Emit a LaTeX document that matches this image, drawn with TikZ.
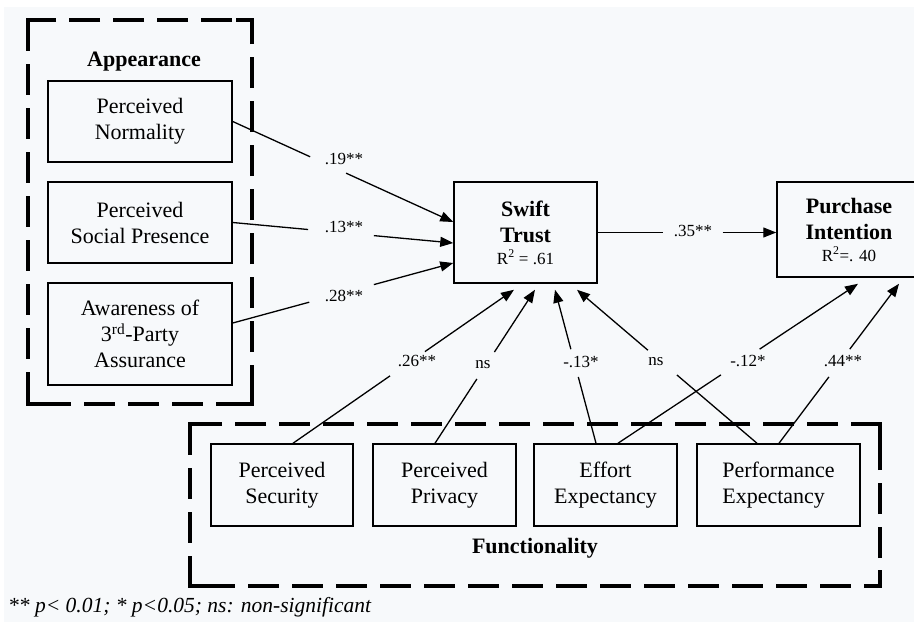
\documentclass[tikz,border=0pt]{standalone}
\usepackage{fontspec}
\setmainfont{Liberation Serif}
\usetikzlibrary{arrows.meta,calc}
\definecolor{bgc}{RGB}{247,249,251}
\newcommand\bxf{\fontsize{22}{26}\selectfont}
\newcommand\lbf{\fontsize{17}{20}\selectfont}
\newcommand\ftf{\fontsize{21.5}{24}\selectfont}
\newcommand\gapconn[4]{%
  \path (#1) -- (#2) coordinate[pos=#3] (ga) coordinate[pos=#4] (gb);
  \draw[conn] (#1) -- (ga);
  \draw[conn,arr] (gb) -- (#2);}
\tikzset{
  box/.style={draw, line width=1.5pt, align=center, font=\bxf, inner sep=0pt},
  title/.style={font=\bxf\bfseries, inner sep=0pt},
  conn/.style={line width=1.3pt},
  arr/.style={-{Triangle[length=13pt,width=10pt]}},
  lbl/.style={font=\lbf, inner sep=0pt},
  grp/.style={line width=4pt, dash pattern=on 31pt off 13pt},
  grpc/.style={line width=4pt, miter limit=10}
}
\begin{document}
\begin{tikzpicture}[x=1pt,y=-1pt]
\useasboundingbox (0,0) rectangle (914,622);
\clip (0,0) rectangle (914,622);
\fill[white] (0,0) rectangle (914,622);
\fill[bgc] (4,7) rectangle (914,622);

% group frames
\draw[grp] (28,20) rectangle (252,404);
\draw[grpc] (28,36) -- (28,20) -- (44,20);
\draw[grpc] (236,20) -- (252,20) -- (252,36);
\draw[grpc] (28,388) -- (28,404) -- (44,404);
\draw[grpc] (236,404) -- (252,404) -- (252,388);
\node[title] (app) at (144,62) {Appearance};

\draw[grp] (190,424) rectangle (880,586);
\draw[grpc] (190,440) -- (190,424) -- (206,424);
\draw[grpc] (864,424) -- (880,424) -- (880,440);
\draw[grpc] (190,570) -- (190,586) -- (206,586);
\draw[grpc] (864,586) -- (880,586) -- (880,570);
\node[title] (fun) at (535,548) {Functionality};

% boxes
\node[box, minimum width=184pt, minimum height=81pt] (pn) at (140,121.5) {Perceived\\Normality};
\node[box, minimum width=184pt, minimum height=81pt] (pp) at (140,222.5) {Perceived\\Social Presence};
\node[box, minimum width=184pt, minimum height=102pt] (aw) at (140,334) {Awareness of\\3\textsuperscript{rd}-Party\\Assurance};

\node[box, minimum width=143pt, minimum height=101pt] (st) at (525.5,232.5)
  {\textbf{Swift}\\\textbf{Trust}\\[-4pt]\lbf R\textsuperscript{2} = .61};
\node[box, minimum width=144pt, minimum height=95pt] (pi) at (849,229.5)
  {\textbf{Purchase}\\\textbf{Intention}\\[-4pt]\lbf R\textsuperscript{2}=. 40};

\node[box, minimum width=142pt, minimum height=82pt] (ps) at (282,485) {Perceived\\Security};
\node[box, minimum width=143pt, minimum height=82pt] (pv) at (444.5,485) {Perceived\\Privacy};
\node[box, minimum width=143pt, minimum height=82pt] (ee) at (605.5,485) {Effort\\Expectancy};
\node[box, minimum width=163pt, minimum height=82pt, align=left] (pe) at (778.5,485) {Performance\\Expectancy};

% connector end points
\coordinate (aws) at ($(aw.east)+(0,-11)$);
\coordinate (st1) at ($(st.west)+(0,-10.5)$);
\coordinate (st2) at ($(st.west)+(0,10.5)$);
\coordinate (st3) at ($(st.west)+(0,30.5)$);
\coordinate (sb1) at ($(st.south)+(-11.5,6)$);
\coordinate (sb2) at ($(st.south)+(9.5,6)$);
\coordinate (sb3) at ($(st.south)+(29.5,6)$);
\coordinate (sb4) at ($(st.south)+(51.5,6)$);
\coordinate (pb1) at ($(pi.south)+(9,6)$);
\coordinate (pb2) at ($(pi.south)+(50,6)$);
\coordinate (pss) at ($(ps.north)+(11,0)$);
\coordinate (pvs) at ($(pv.north)+(-9.5,0)$);
\coordinate (ees1) at ($(ee.north)+(-9.5,0)$);
\coordinate (ees2) at ($(ee.north)+(12.5,0)$);
\coordinate (pes1) at ($(pe.north)+(-21.5,0)$);
\coordinate (pes2) at ($(pe.north)+(0.5,0)$);
\coordinate (stE) at (st.east);
\coordinate (piW) at (st.east -| pi.west);

% connectors
\gapconn{pn.east}{st1}{0.351}{0.514}
\gapconn{pp.east}{st2}{0.342}{0.640}
\gapconn{aws}{st3}{0.347}{0.640}
\gapconn{pss}{sb1}{0.439}{0.597}
\gapconn{pvs}{sb2}{0.419}{0.594}
\gapconn{ees1}{sb3}{0.432}{0.613}
\gapconn{pes1}{sb4}{0.445}{0.606}
\gapconn{ees2}{pb1}{0.429}{0.590}
\gapconn{pes2}{pb2}{0.416}{0.590}
\gapconn{stE}{piW}{0.367}{0.700}

% labels
\node[lbl] (l1) at (344,159) {.19**};
\node[lbl] (l2) at (344,227) {.13**};
\node[lbl] (l3) at (344,296) {.28**};
\node[lbl] (l4) at (417,361) {.26**};
\node[lbl] (l5) at (483,365) {ns};
\node[lbl] (l6) at (581,362) {-.13*};
\node[lbl] (l7) at (656,362) {ns};
\node[lbl] (l8) at (748,361) {-.12*};
\node[lbl] (l9) at (843,361) {.44**};
\node[lbl] (l10) at (693,231) {.35**};

\node[font=\ftf\itshape, anchor=west, inner sep=0pt] (note) at (8,607) {** p< 0.01; * p<0.05; ns: non-significant};
\end{tikzpicture}
\end{document}
